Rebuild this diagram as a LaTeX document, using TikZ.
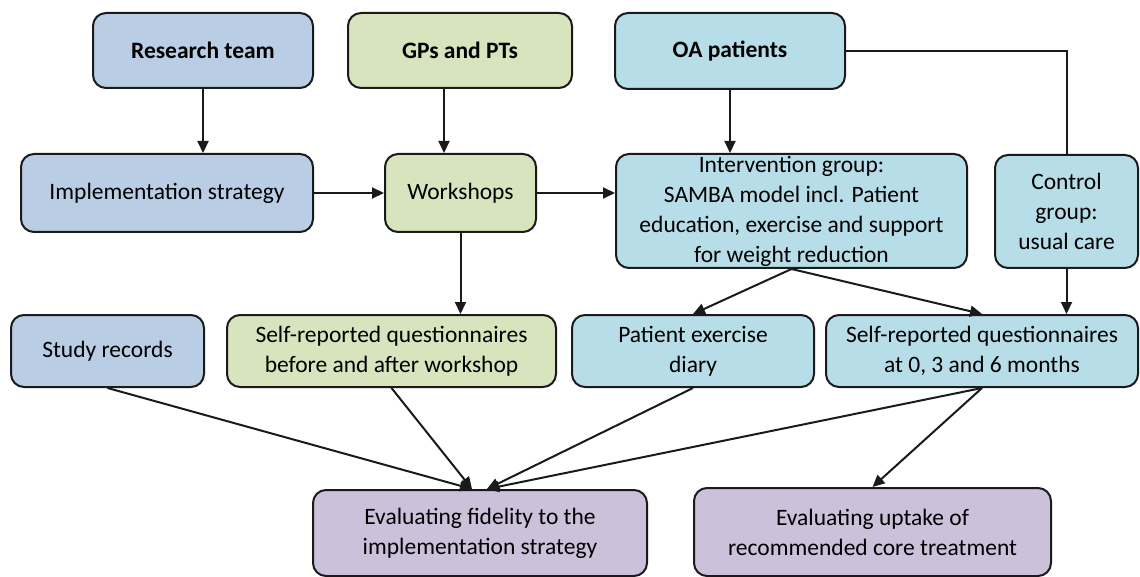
\documentclass[tikz,border=0pt]{standalone}
\usepackage{fontspec}
\setmainfont{Carlito}
\usepackage{xcolor}
\usepackage{tikz}
\usetikzlibrary{arrows.meta}
\definecolor{border}{HTML}{1A1A1A}
\definecolor{blueF}{HTML}{B9CDE5}
\definecolor{greenF}{HTML}{D7E4BD}
\definecolor{cyanF}{HTML}{B7DEE8}
\definecolor{purpleF}{HTML}{CCC1DA}
\tikzset{
  box/.style={draw=border, line width=2pt, rounded corners=13pt, align=center,
    inner sep=0pt, font=\fontsize{23.5}{30}\selectfont},
  head/.style={box, font=\fontsize{23.5}{30}\selectfont\bfseries},
  arr/.style={-{Triangle[length=12pt,width=11pt]}, line width=2pt, draw=border},
  lnk/.style={line width=2pt, draw=border}
}

\begin{document}
\begin{tikzpicture}[x=1pt, y=-1pt]
  \useasboundingbox (0,0) rectangle (1140,577);

  \node[head, fill=blueF, minimum width=220pt, minimum height=75pt] (research) at (203,50.5) {Research team};
  \node[head, fill=greenF, minimum width=224pt, minimum height=75pt] (gps) at (460,50.5) {GPs and PTs};
  \node[head, fill=cyanF, minimum width=230pt, minimum height=76pt] (oa) at (730,51) {OA patients};

  \node[box, fill=blueF, minimum width=292pt, minimum height=78pt] (impl) at (167,193) {Implementation strategy};
  \node[box, fill=greenF, minimum width=151pt, minimum height=78pt] (work) at (460.5,193) {Workshops};
  \node[box, fill=cyanF, minimum width=351pt, minimum height=114pt] (interv) at (791.5,211)
    {Intervention group:\\SAMBA model incl. Patient\\education, exercise and support\\for weight reduction};
  \node[box, fill=cyanF, minimum width=143pt, minimum height=113pt] (control) at (1066.5,211.5)
    {Control\\group:\\usual care};

  \node[box, fill=blueF, minimum width=193pt, minimum height=72pt] (study) at (107.5,351) {Study records};
  \node[box, fill=greenF, minimum width=329pt, minimum height=72pt] (srw) at (391.5,351)
    {Self-reported questionnaires\\before and after workshop};
  \node[box, fill=cyanF, minimum width=242pt, minimum height=72pt] (diary) at (693,351)
    {Patient exercise\\diary};
  \node[box, fill=cyanF, minimum width=312pt, minimum height=72pt] (srp) at (982,351)
    {Self-reported questionnaires\\at 0, 3 and 6 months};

  \node[box, fill=purpleF, minimum width=334pt, minimum height=86pt] (fid) at (480,533)
    {Evaluating fidelity to the\\implementation strategy};
  \node[box, fill=purpleF, minimum width=357pt, minimum height=88pt] (uptake) at (872.5,532)
    {Evaluating uptake of\\recommended core treatment};

  \coordinate (fidA) at ([xshift=-8pt]fid.north);
  \coordinate (fidB) at ([xshift=7pt]fid.north);

  \draw[arr] (research.south) -- (research.south |- impl.north);
  \draw[arr] ([xshift=-16pt]gps.south) -- ([xshift=-16pt]gps.south |- work.north);
  \draw[arr] (oa.south) -- (oa.south |- interv.north);
  \draw[arr] (impl.east) -- (work.west);
  \draw[arr] (work.east) -- (work.east -| interv.west);
  \draw[lnk] (oa.east) -| (control.north);
  \draw[arr] (work.south) -- (work.south |- srw.north);
  \draw[arr] (interv.south) -- (diary.north);
  \draw[arr] (interv.south) -- (srp.north);
  \draw[arr] (control.south) -- (control.south |- srp.north);

  \draw[arr] (study.south) -- (fidA);
  \draw[arr] (srw.south) -- (fidA);
  \draw[arr] (diary.south) -- (fidB);
  \draw[arr] (srp.south) -- (fidB);
  \draw[arr] (srp.south) -- (uptake.north);
\end{tikzpicture}
\end{document}
